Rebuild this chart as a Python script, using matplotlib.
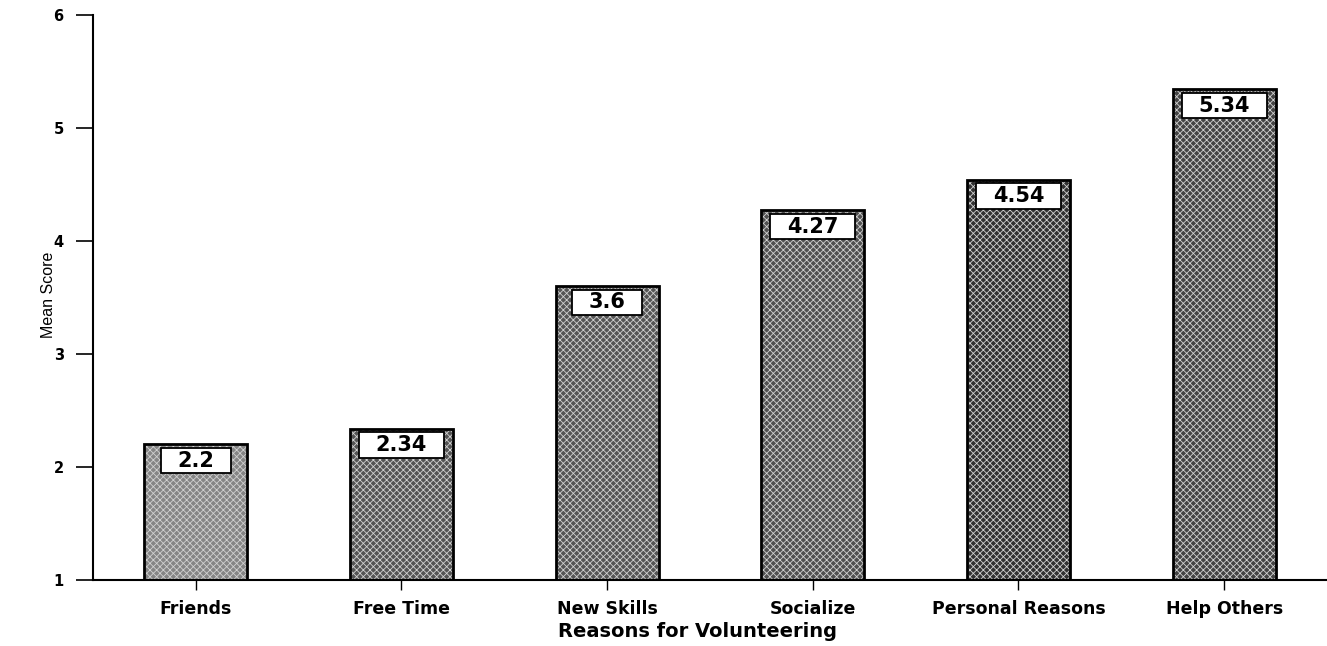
import matplotlib
matplotlib.use("Agg")
import matplotlib.pyplot as plt
from matplotlib.path import Path

# Mean score for each reason given for volunteering
reasons = ["Friends", "Free Time", "New Skills", "Socialize",
           "Personal Reasons", "Help Others"]
mean_scores = [2.2, 2.34, 3.6, 4.27, 4.54, 5.34]
score_labels = ["2.2", "2.34", "3.6", "4.27", "4.54", "5.34"]
y_ticks = [1, 2, 3, 4, 5, 6]

# halftone-like grey shades, darkening with the score
bar_shades = ["#858585", "#545454", "#555555", "#505050", "#323232", "#444444"]

plt.rcParams["hatch.linewidth"] = 0.6
BOLD = ["DejaVu Sans"]


def label_box(x0, y0, width, height, mutation_size):
    """Rectangle with more horizontal than vertical padding."""
    px = 0.80 * mutation_size
    py = 0.13 * mutation_size
    x0, y0 = x0 - px, y0 - py
    x1, y1 = x0 + width + 2 * px, y0 + height + 2 * py
    return Path([(x0, y0), (x1, y0), (x1, y1), (x0, y1), (x0, y0)],
                closed=True)


fig = plt.figure(figsize=(13.27, 6.46), dpi=100)
ax = fig.add_axes([0.070, 0.102, 0.930, 0.875])

base = y_ticks[0]
positions = list(range(len(reasons)))
heights = [v - base for v in mean_scores]

# textured fill
ax.bar(positions, heights, bottom=base, width=0.5, color=bar_shades,
       edgecolor="#d0d0d0", linewidth=0, hatch="xxxxx", zorder=2)
# solid outline
ax.bar(positions, heights, bottom=base, width=0.5, fill=False,
       edgecolor="black", linewidth=2.0, zorder=3)

for x, v, lab in zip(positions, mean_scores, score_labels):
    ax.annotate(lab, xy=(x, v), xytext=(0, -4.5), textcoords="offset points",
                ha="center", va="top", fontsize=15, fontweight="bold",
                family=BOLD, zorder=4,
                bbox=dict(boxstyle=label_box, fc="white", ec="black", lw=1.3))

ax.set_xlim(-0.5, 5.5)
ax.set_ylim(1, 6)
ax.set_yticks(y_ticks)
ax.set_yticklabels([str(t) for t in y_ticks], fontsize=10.5,
                   fontweight="bold", family=BOLD)
ax.set_xticks(positions)
ax.set_xticklabels(reasons, fontsize=12.5, fontweight="bold", family=BOLD)

ax.tick_params(axis="y", length=12, width=1.2, pad=9)
ax.tick_params(axis="x", length=7, width=1.0, pad=7)

for side in ("top", "right"):
    ax.spines[side].set_visible(False)
for side in ("left", "bottom"):
    ax.spines[side].set_linewidth(1.5)

ax.set_ylabel("Mean Score", fontsize=11.5, family=["Liberation Sans"])
ax.yaxis.set_label_coords(-0.030, 0.504)
ax.set_xlabel("Reasons for Volunteering", fontsize=14, fontweight="bold",
              family=BOLD)
ax.xaxis.set_label_coords(0.49, -0.074)

fig.savefig("out.png", dpi=100)
